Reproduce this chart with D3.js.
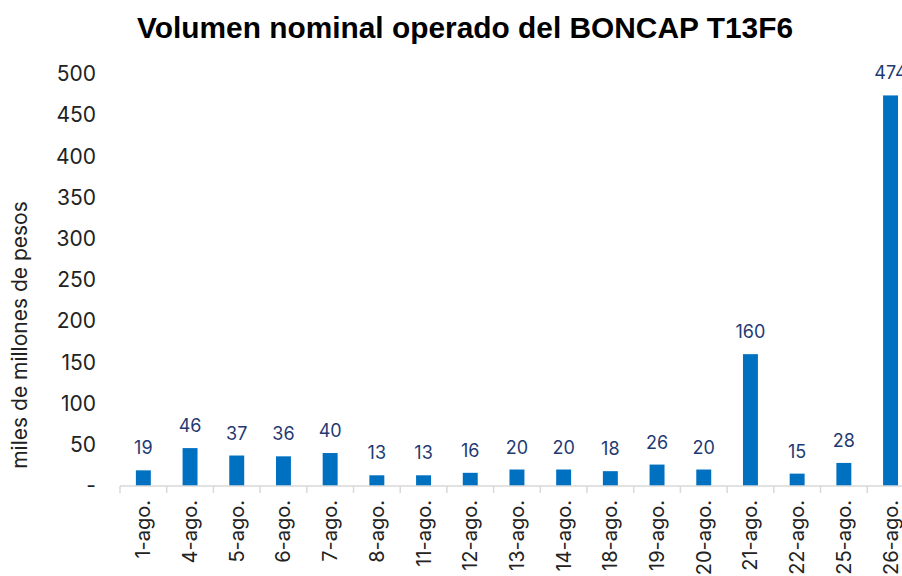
<!DOCTYPE html>
<html>
<head>
<meta charset="utf-8">
<script src="https://cdn.jsdelivr.net/npm/d3@7"></script>
<style>
	body { margin: 0; background: #fff; }
	svg { display: block; }
</style>
</head>
<body>
<script>
// chart data
var dias = ["1-ago.", "4-ago.", "5-ago.", "6-ago.", "7-ago.", "8-ago.", "11-ago.", "12-ago.",
	"13-ago.", "14-ago.", "18-ago.", "19-ago.", "20-ago.", "21-ago.", "22-ago.", "25-ago.", "26-ago."];
var volumen = [19, 46, 37, 36, 40, 13, 13, 16, 20, 20, 18, 26, 20, 160, 15, 28, 474];
var yTicks = [0, 50, 100, 150, 200, 250, 300, 350, 400, 450, 500];

var width = 902;
var height = 576;
var font = "Inter, 'Liberation Sans', Arial, sans-serif";

var svg = d3.select("body").append("svg")
	.attr("width", width)
	.attr("height", height);

// scales (plot runs past the right edge, like the original)
var x = d3.scaleBand()
	.domain(dias)
	.range([120, 120 + dias.length * 46.7]);

var y = d3.scaleLinear()
	.domain([0, 500])
	.range([486, 74]);

var barW = x.bandwidth() * 0.32;

// title
svg.append("text")
	.attr("x", 465)
	.attr("y", 38)
	.attr("text-anchor", "middle")
	.style("font-family", "'Liberation Sans', Arial, sans-serif")
	.style("font-weight", "bold")
	.style("font-size", "29px")
	.attr("textLength", 656)
	.attr("lengthAdjust", "spacingAndGlyphs")
	.attr("fill", "#000")
	.text("Volumen nominal operado del BONCAP T13F6");

// y axis label
svg.append("text")
	.attr("transform", "translate(27,335) rotate(-90)")
	.attr("text-anchor", "middle")
	.style("font-family", font)
	.style("font-size", "21px")
	.attr("fill", "#222")
	.text("miles de millones de pesos");

// y axis, labels only
var yAxis = svg.append("g")
	.attr("transform", "translate(96,0)")
	.call(d3.axisLeft(y)
		.tickValues(yTicks)
		.tickSize(0)
		.tickPadding(0)
		.tickFormat(function(d) { return d == 0 ? "-" : d; }));
yAxis.select(".domain").remove();
yAxis.selectAll("text")
	.style("font-family", font)
	.style("font-size", "21px")
	.attr("fill", "#222");

// bars
svg.selectAll("rect.bar")
	.data(volumen)
	.enter()
	.append("rect")
	.attr("class", "bar")
	.attr("x", function(d, i) { return x(dias[i]) + (x.bandwidth() - barW) / 2; })
	.attr("y", function(d) { return y(d); })
	.attr("width", barW)
	.attr("height", function(d) { return y(0) - y(d); })
	.attr("fill", "#0070C0");

// value labels
svg.selectAll("text.val")
	.data(volumen)
	.enter()
	.append("text")
	.attr("class", "val")
	.attr("x", function(d, i) { return x(dias[i]) + x.bandwidth() / 2; })
	.attr("y", function(d) { return y(d) - 16; })
	.attr("text-anchor", "middle")
	.style("font-family", font)
	.style("font-size", "18px")
	.attr("fill", "#1F3A73")
	.text(function(d) { return d; });

// x axis line and separators between days
var xr = x.range();
svg.append("line")
	.attr("x1", xr[0]).attr("x2", xr[1])
	.attr("y1", y(0)).attr("y2", y(0))
	.attr("stroke", "#d9d9d9")
	.attr("stroke-width", 1.5);

svg.selectAll("line.sep")
	.data(dias.concat(["__end"]))
	.enter()
	.append("line")
	.attr("class", "sep")
	.attr("x1", function(d, i) { return xr[0] + i * x.step(); })
	.attr("x2", function(d, i) { return xr[0] + i * x.step(); })
	.attr("y1", y(0))
	.attr("y2", y(0) + 7)
	.attr("stroke", "#d9d9d9")
	.attr("stroke-width", 1.5);

// x labels, rotated
svg.selectAll("text.cat")
	.data(dias)
	.enter()
	.append("text")
	.attr("class", "cat")
	.attr("transform", function(d) {
		return "translate(" + (x(d) + x.bandwidth() / 2 + 7) + ",500) rotate(-90)";
	})
	.attr("text-anchor", "end")
	.style("font-family", font)
	.style("font-size", "20px")
	.attr("fill", "#222")
	.text(function(d) { return d; });
</script>
</body>
</html>
